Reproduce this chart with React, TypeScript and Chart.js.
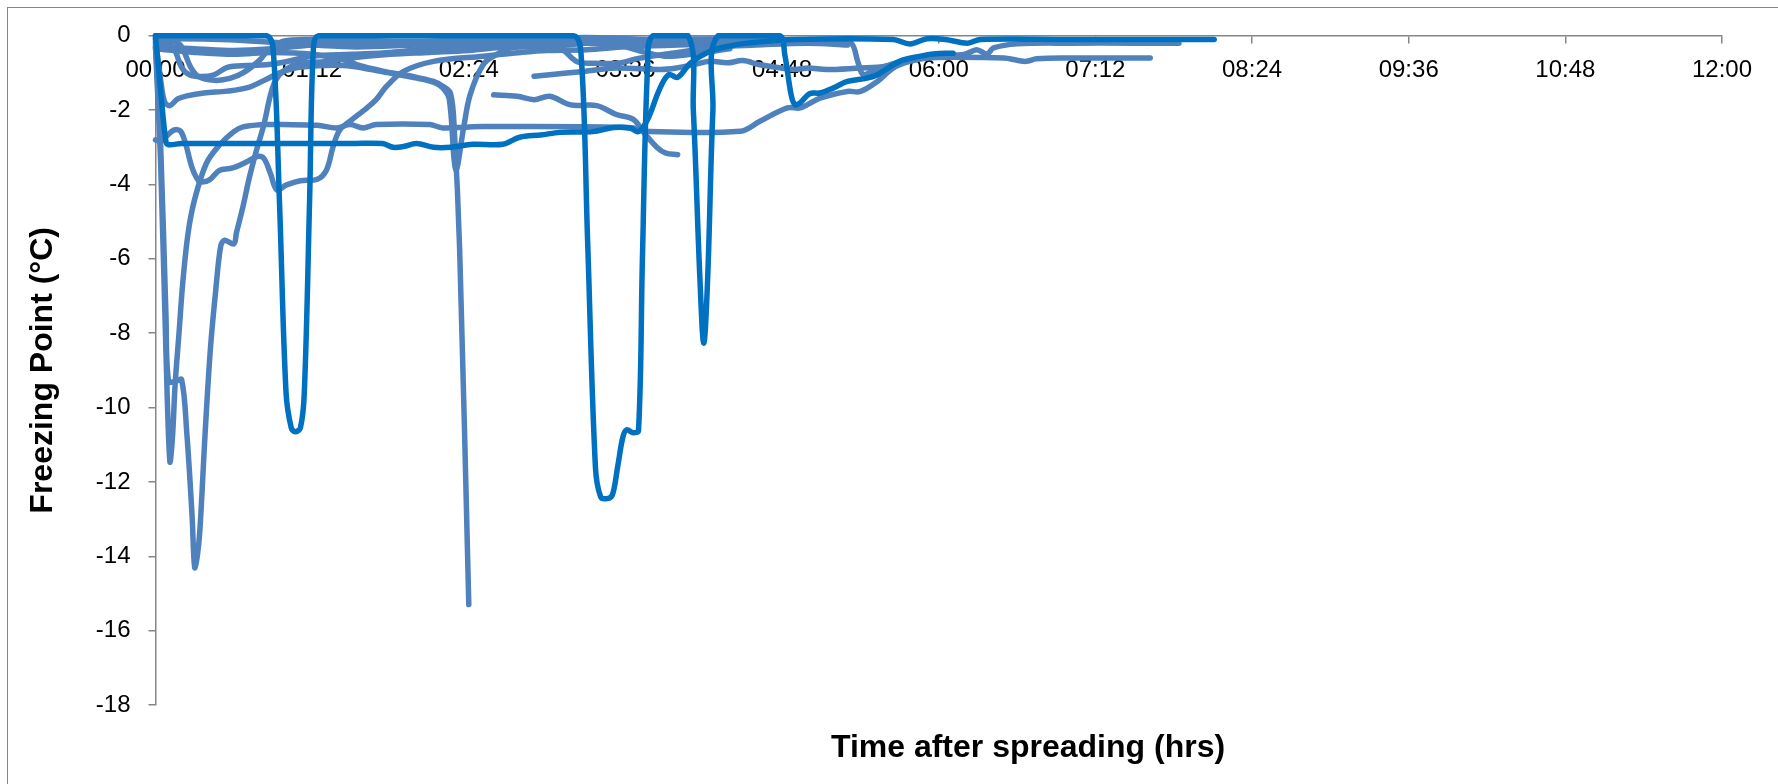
import React, { useEffect, useRef } from "react";
import { Chart, registerables } from "chart.js";

Chart.register(...registerables);

// X axis: hours after spreading (labels shown as hh:mm)
const tickHours = [0, 1.2, 2.4, 3.6, 4.8, 6, 7.2, 8.4, 9.6, 10.8, 12];
const tickLabels = ["00:00", "01:12", "02:24", "03:36", "04:48", "06:00", "07:12", "08:24", "09:36", "10:48", "12:00"];
const yMin = -18;
const yMax = 0;
const yStep = 2;

// [hours, freezing point °C]
const darkFlat = [
  [0, 0], [0.04, -1.5], [0.08, -2.85], [0.1, -2.93], [0.2, -2.9], [0.5, -2.9], [1.0, -2.9], [1.5, -2.9],
  [1.74, -2.9], [1.82, -3.0], [1.9, -2.98], [2.0, -2.9], [2.13, -3.0], [2.26, -3.0], [2.43, -2.92],
  [2.66, -2.92], [2.79, -2.73], [2.95, -2.67], [3.1, -2.6], [3.35, -2.58], [3.51, -2.47], [3.64, -2.49],
  [3.7, -2.58], [3.77, -2.25], [3.86, -1.45], [3.93, -1.05], [4.0, -1.12], [4.1, -0.73], [4.25, -0.42],
  [4.38, -0.29], [4.53, -0.2], [4.89, -0.1], [5.65, -0.1], [5.78, -0.22], [5.91, -0.08], [6.05, -0.1],
  [6.22, -0.2], [6.32, -0.1], [7.0, -0.1], [8.11, -0.1],
];
const darkSpikes = [
  [0, 0], [0.5, 0], [0.85, 0], [0.9, -0.3], [0.95, -4.5], [1.0, -9.6], [1.04, -10.55], [1.07, -10.65],
  [1.11, -10.55], [1.14, -9.6], [1.18, -4.5], [1.21, -0.3], [1.25, 0], [2.0, 0], [3.2, 0], [3.26, -0.5],
  [3.31, -5.5], [3.37, -11.6], [3.41, -12.4], [3.46, -12.45], [3.5, -12.35], [3.54, -11.6], [3.58, -10.8],
  [3.61, -10.6], [3.66, -10.68], [3.7, -10.62], [3.73, -6], [3.77, -0.8], [3.81, 0], [4.08, 0], [4.12, -2],
  [4.17, -6.5], [4.2, -8.27], [4.23, -6.5], [4.27, -2], [4.31, 0], [4.78, 0], [4.82, -0.5], [4.87, -1.6],
  [4.9, -1.86], [4.94, -1.8], [5.01, -1.56], [5.09, -1.54], [5.19, -1.41], [5.3, -1.23], [5.45, -1.14],
  [5.53, -1.05], [5.7, -0.69], [5.86, -0.55], [5.96, -0.49], [6.11, -0.47],
];
const lightDip11 = [
  [0, -0.3], [0.04, -3.5], [0.08, -8.5], [0.11, -11.45], [0.13, -10.8], [0.15, -9.4], [0.18, -8.0],
  [0.21, -6.6], [0.25, -5.3], [0.3, -4.4], [0.39, -3.43], [0.49, -2.94], [0.6, -2.58], [0.67, -2.45],
  [0.82, -2.39], [0.98, -2.39], [1.24, -2.41], [1.39, -2.48], [1.49, -2.39], [1.59, -2.48], [1.69, -2.39],
  [2.1, -2.39], [2.2, -2.48], [2.38, -2.46], [2.51, -2.44], [3.28, -2.45], [3.53, -2.46], [3.66, -2.48],
  [3.74, -2.57], [4.48, -2.57], [4.63, -2.3], [4.84, -1.94], [4.94, -1.94], [5.09, -1.68], [5.3, -1.5],
  [5.4, -1.5], [5.53, -1.23], [5.65, -0.87], [5.78, -0.69], [5.91, -0.6], [6.1, -0.58], [6.5, -0.6],
  [6.6, -0.66], [6.67, -0.69], [6.75, -0.62], [7.0, -0.6], [7.62, -0.6],
];
const lightDip14 = [
  [0, -0.2], [0.04, -3], [0.08, -7.5], [0.1, -9.3], [0.15, -9.3], [0.2, -9.25], [0.24, -10.7],
  [0.28, -12.9], [0.3, -14.3], [0.32, -14.0], [0.34, -13.3], [0.38, -10.7], [0.42, -8.45], [0.46, -6.9],
  [0.5, -5.65], [0.53, -5.5], [0.6, -5.6], [0.62, -5.3], [0.67, -4.6], [0.72, -3.8], [0.78, -3.0],
  [0.83, -2.4], [0.88, -1.6], [0.92, -1.2], [0.98, -0.95], [1.1, -0.75], [1.3, -0.7], [1.5, -0.6],
  [1.8, -0.5], [2.1, -0.45], [2.4, -0.4], [2.7, -0.3], [3.0, -0.3], [3.3, -0.2], [3.6, -0.2], [4.0, -0.15],
  [4.5, -0.15],
];
const lightDip3 = [
  [0, -0.1], [0.04, -1.2], [0.07, -1.78], [0.11, -1.88], [0.17, -1.7], [0.24, -1.62], [0.37, -1.54],
  [0.55, -1.49], [0.72, -1.38], [0.85, -1.17], [0.95, -1.0], [1.1, -0.85], [1.3, -0.8], [1.5, -0.82],
  [1.75, -0.98], [2.0, -1.14], [2.13, -1.25], [2.2, -1.4], [2.25, -1.7], [2.3, -3.6], [2.36, -2.48],
  [2.41, -1.59], [2.51, -0.78], [2.61, -0.51], [2.72, -0.33], [3.0, -0.25], [3.3, -0.2], [3.6, -0.25],
  [4.0, -0.2], [4.4, -0.15],
];
const lightDip15 = [
  [0, -0.35], [0.3, -0.45], [0.6, -0.5], [0.9, -0.45], [1.2, -0.5], [1.49, -0.69], [1.54, -0.78],
  [1.75, -0.96], [1.9, -1.05], [2.0, -1.12], [2.13, -1.23], [2.2, -1.36], [2.26, -1.55], [2.29, -2.6],
  [2.33, -5.76], [2.4, -15.3],
];
const lightBumpy = [
  [0, -2.8], [0.04, -2.85], [0.08, -2.72], [0.14, -2.54], [0.19, -2.56], [0.23, -2.9], [0.28, -3.55],
  [0.33, -3.9], [0.37, -3.93], [0.42, -3.86], [0.49, -3.62], [0.57, -3.57], [0.62, -3.52], [0.7, -3.39],
  [0.78, -3.25], [0.83, -3.3], [0.88, -3.7], [0.93, -4.15], [1.0, -4.02], [1.11, -3.9], [1.24, -3.86],
  [1.31, -3.61], [1.36, -2.99], [1.41, -2.54], [1.49, -2.3], [1.62, -1.94], [1.69, -1.72], [1.77, -1.36],
  [1.9, -0.96], [2.13, -0.69], [2.51, -0.55], [2.8, -0.45], [3.0, -0.4], [3.3, -0.38], [3.6, -0.3],
  [4.0, -0.25], [4.5, -0.2],
];
const lightLate = [
  [2.59, -1.59], [2.77, -1.63], [2.9, -1.72], [3.02, -1.63], [3.18, -1.86], [3.38, -1.88], [3.53, -2.12],
  [3.66, -2.25], [3.74, -2.6], [3.84, -3.0], [3.91, -3.16], [4.0, -3.2],
];
const lightShort = [
  [2.9, -1.09], [3.02, -1.05], [3.28, -0.96], [3.53, -0.87], [3.87, -0.91], [3.99, -0.87], [4.12, -0.78],
  [4.25, -0.69], [4.38, -0.73], [4.5, -0.67], [4.63, -0.78], [4.89, -0.91], [5.0, -0.87], [5.14, -0.91],
  [5.4, -0.87], [5.53, -0.85], [5.65, -0.78], [5.7, -0.73], [5.85, -0.6], [6.0, -0.55], [6.2, -0.58],
];
const lightDip12 = [
  [0, -0.05], [0.1, -0.12], [0.19, -0.25], [0.27, -0.85], [0.33, -1.1], [0.45, -1.2], [0.57, -1.15],
  [0.68, -0.98], [0.8, -0.65], [0.86, -0.4], [0.98, -0.15], [1.2, -0.1], [1.5, -0.12], [2.0, -0.15],
  [2.5, -0.1], [3.0, -0.08], [3.3, -0.05], [3.8, -0.1], [4.3, -0.08],
];
const lightDip11b = [
  [0, -0.15], [0.13, -0.3], [0.2, -0.85], [0.26, -1.05], [0.35, -1.1], [0.45, -1.05], [0.55, -0.85],
  [0.7, -0.8], [0.85, -0.78], [1.0, -0.7], [1.2, -0.55], [1.5, -0.5], [1.8, -0.45], [2.1, -0.35],
  [2.4, -0.3], [2.7, -0.2], [3.0, -0.2], [3.3, -0.1], [3.5, -0.2], [3.7, -0.4], [3.9, -0.55], [4.1, -0.5],
  [4.4, -0.35],
];
const lightLong = [
  [0, -0.3], [0.3, -0.35], [0.6, -0.4], [0.9, -0.35], [1.2, -0.25], [1.5, -0.2], [2.0, -0.2], [2.5, -0.15],
  [3.0, -0.15], [3.5, -0.1], [4.0, -0.12], [4.63, -0.12], [4.94, -0.12], [5.21, -0.12], [5.33, -0.2],
  [5.38, -0.7], [5.42, -1.05], [5.48, -0.97], [5.62, -0.79], [5.8, -0.62], [6.0, -0.55], [6.2, -0.5],
  [6.29, -0.38], [6.37, -0.49], [6.42, -0.33], [6.6, -0.22], [7.0, -0.2], [7.5, -0.2], [7.84, -0.2],
];
const lightDip07 = [
  [0, -0.08], [0.5, -0.1], [1.0, -0.2], [1.5, -0.3], [2.0, -0.25], [2.5, -0.2], [3.02, -0.3], [3.12, -0.38],
  [3.23, -0.7], [3.37, -0.74], [3.54, -0.74], [3.7, -0.61], [3.9, -0.5], [4.1, -0.4], [4.3, -0.3],
  [4.6, -0.25], [5.0, -0.2], [5.3, -0.25],
];

const darkSeries = [darkFlat, darkSpikes];
const lightSeries = [
  lightDip11, lightDip14, lightDip3, lightDip15, lightBumpy, lightLate, lightShort,
  lightDip12, lightDip11b, lightLong, lightDip07,
];

const FONT = '"Liberation Sans", Arial, sans-serif';
const AXIS_GRAY = "#868686";

const xTitlePlugin = {
  id: "xTitle",
  afterDraw(chart: any) {
    const { ctx } = chart;
    ctx.save();
    ctx.font = `bold 32px ${FONT}`;
    ctx.fillStyle = "#000";
    ctx.textAlign = "center";
    ctx.textBaseline = "middle";
    ctx.fillText("Time after spreading (hrs)", 1020, 740);
    ctx.restore();
  },
};

export default function App() {
  const ref = useRef<HTMLCanvasElement>(null);

  useEffect(() => {
    if (!ref.current) return;
    const mk = (pts: number[][], color: string) => ({
      data: pts.map(([x, y]) => ({ x, y })),
      borderColor: color,
      backgroundColor: color,
      borderWidth: 5.5,
      pointRadius: 0,
      pointHoverRadius: 0,
      tension: 0.35,
      borderCapStyle: "round" as const,
      borderJoinStyle: "round" as const,
      fill: false,
      clip: 10,
    });
    const datasets = [
      ...darkSeries.map((s) => mk(s, "#0070C0")),
      ...lightSeries.map((s) => mk(s, "#4F81BD")),
    ];
    const tickFont = { family: FONT, size: 24 };
    const chart = new Chart(ref.current, {
      type: "line",
      data: { datasets },
      options: {
        animation: false,
        responsive: true,
        maintainAspectRatio: false,
        layout: { padding: { left: 0, top: 27.7, right: 56, bottom: 79 } },
        plugins: { legend: { display: false }, tooltip: { enabled: false }, title: { display: false } },
        scales: {
          x: {
            type: "linear",
            position: { y: 0 } as any,
            min: 0,
            max: 12,
            afterBuildTicks: (s: any) => {
              s.ticks = tickHours.map((v) => ({ value: v }));
            },
            afterFit: (s: any) => {
              s.paddingLeft = 0;
              s.paddingRight = 0;
            },
            ticks: {
              callback: (_v: any, i: number) => tickLabels[i],
              font: tickFont,
              color: "#000",
              padding: 13,
              maxRotation: 0,
              autoSkip: false,
            },
            grid: { display: true, drawOnChartArea: false, drawTicks: true, tickLength: 7, color: AXIS_GRAY, lineWidth: 1.5 },
            border: { display: true, color: AXIS_GRAY, width: 1.5 },
          },
          y: {
            type: "linear",
            position: "left",
            min: yMin,
            max: yMax,
            afterFit: (s: any) => {
              s.width = 147.5;
              s.paddingTop = 0;
              s.paddingBottom = 0;
            },
            ticks: { stepSize: yStep, font: tickFont, color: "#000", padding: 18 },
            grid: { display: true, drawOnChartArea: false, drawTicks: true, tickLength: 7, color: AXIS_GRAY, lineWidth: 1.5 },
            border: { display: true, color: AXIS_GRAY, width: 1.5 },
            title: {
              display: true,
              text: "Freezing Point (°C)",
              color: "#000",
              font: { family: FONT, size: 32, weight: "bold" },
              padding: { top: 16, bottom: 0 },
            },
          },
        },
      } as any,
      plugins: [xTitlePlugin],
    });
    return () => chart.destroy();
  }, []);

  return (
    <div
      style={{
        position: "fixed",
        left: 7,
        top: 7,
        width: 1771,
        height: 777,
        borderLeft: `1px solid ${AXIS_GRAY}`,
        borderTop: `1px solid ${AXIS_GRAY}`,
        background: "#fff",
      }}
    >
      <div style={{ position: "relative", width: 1770, height: 776 }}>
        <canvas ref={ref} />
      </div>
    </div>
  );
}
